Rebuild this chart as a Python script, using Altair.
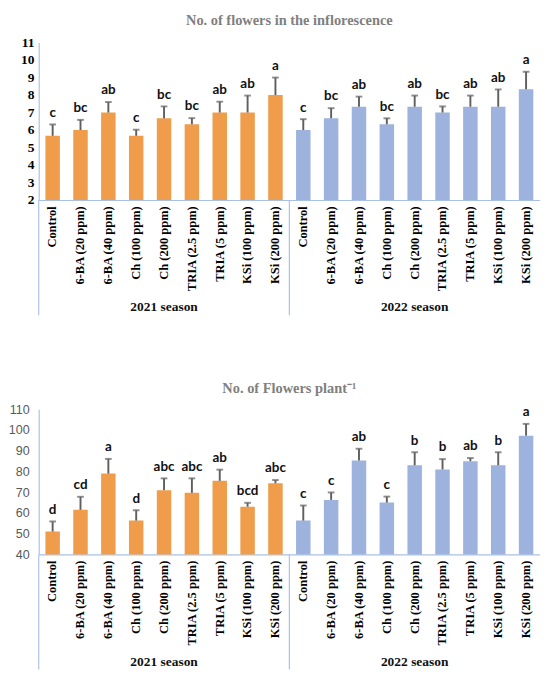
import altair as alt
import pandas as pd

treatments = ["Control", "6-BA (20 ppm)", "6-BA (40 ppm)", "Ch (100 ppm)", "Ch (200 ppm)",
              "TRIA (2.5 ppm)", "TRIA (5 ppm)", "KSi (100 ppm)", "KSi (200 ppm)"]
seasons = ["2021", "2022"]

# Chart 1: No. of flowers in the inflorescence
infl_2021 = [5.67, 6.0, 7.0, 5.67, 6.67, 6.33, 7.0, 7.0, 8.0]
infl_2021_err = [0.65, 0.58, 0.6, 0.35, 0.68, 0.35, 0.62, 0.97, 1.0]
infl_2021_let = ["c", "bc", "ab", "c", "bc", "bc", "ab", "ab", "a"]
infl_2022 = [6.0, 6.67, 7.33, 6.33, 7.33, 7.0, 7.33, 7.33, 8.33]
infl_2022_err = [0.62, 0.58, 0.58, 0.34, 0.64, 0.35, 0.64, 0.99, 1.0]
infl_2022_let = ["c", "bc", "ab", "bc", "ab", "bc", "ab", "ab", "a"]

# Chart 2: No. of Flowers plant-1
plant_2021 = [51.0, 61.5, 79.0, 56.3, 71.0, 69.7, 75.5, 63.0, 74.3]
plant_2021_err = [4.9, 6.3, 7.1, 5.0, 5.7, 7.0, 5.4, 1.9, 1.6]
plant_2021_let = ["d", "cd", "a", "d", "abc", "abc", "ab", "bcd", "abc"]
plant_2022 = [56.3, 66.3, 85.3, 65.0, 83.0, 81.0, 85.0, 83.0, 97.3]
plant_2022_err = [7.3, 3.6, 5.7, 2.9, 6.3, 5.0, 1.5, 6.3, 5.7]
plant_2022_let = ["c", "c", "ab", "c", "b", "b", "ab", "b", "a"]

ORANGE = "#EF9D4B"
BLUE = "#9DB3DD"
AXIS_BLUE = "#A9C0E6"
ERR = "#5F5F5F"
SERIF = "Liberation Serif"

keys = [f"{s}|{t}" for s in seasons for t in treatments]


def build_df(v1, e1, l1, v2, e2, l2):
    rows = []
    for s, vals, errs, lets in (("2021", v1, e1, l1), ("2022", v2, e2, l2)):
        for t, v, e, l in zip(treatments, vals, errs, lets):
            rows.append({"key": f"{s}|{t}", "season": s, "value": v,
                         "top": v + e, "letter": l})
    return pd.DataFrame(rows)


def panel(df, title, height, domain, tick_values, ylab_font, ylab_weight,
          ylab_color, ylab_size, ylab_pad):
    width = 522
    xscale = alt.Scale(paddingInner=0, paddingOuter=0)
    xaxis = alt.Axis(title=None, labelAngle=-90, ticks=False,
                     labelExpr="split(datum.label, '|')[1]",
                     labelFont=SERIF, labelFontWeight="bold",
                     labelFontSize=13, labelColor="#000000",
                     labelPadding=6, domainColor=AXIS_BLUE,
                     domainWidth=1.2, grid=False)
    yscale = alt.Scale(domain=domain, nice=False, zero=False)
    yaxis = alt.Axis(title=None, values=tick_values, ticks=False, grid=False,
                     labelOverlap=False,
                     domainColor=AXIS_BLUE, domainWidth=1.2,
                     labelFont=ylab_font, labelFontWeight=ylab_weight,
                     labelColor=ylab_color, labelFontSize=ylab_size,
                     labelPadding=ylab_pad)

    def X():
        return alt.X("key:N", sort=keys, scale=xscale, axis=xaxis)

    def Y(field):
        return alt.Y(field, scale=yscale, axis=yaxis)

    base = alt.Chart(df)
    bars = base.mark_bar(width=alt.RelativeBandSize(0.52), clip=True).encode(
        x=X(),
        y=Y("value:Q"),
        color=alt.Color("season:N",
                        scale=alt.Scale(domain=seasons, range=[ORANGE, BLUE]),
                        legend=None),
    )
    rules = base.mark_rule(color=ERR, strokeWidth=2).encode(
        x=X(), y=Y("value:Q"), y2="top:Q")
    caps = base.mark_tick(color=ERR, size=7, thickness=2).encode(
        x=X(), y=Y("top:Q"))
    letters = base.mark_text(font="Lato", fontWeight="bold", fontSize=14,
                             color="#111111", baseline="alphabetic", dy=-8).encode(
        x=X(), y=Y("top:Q"), text="letter:N")

    div_df = pd.DataFrame({"key": ["2021|Control", "2022|Control"]})
    dividers = alt.Chart(div_df).mark_rule(color=AXIS_BLUE, strokeWidth=1.2).encode(
        x=alt.X("key:N", sort=keys, scale=xscale, axis=xaxis, bandPosition=0),
        y=alt.value(height), y2=alt.value(height + 120))

    season_df = pd.DataFrame({"key": ["2021|Ch (200 ppm)", "2022|Ch (200 ppm)"],
                              "label": ["2021 season", "2022 season"]})
    season_txt = alt.Chart(season_df).mark_text(
        font=SERIF, fontWeight="bold", fontSize=14, color="#111111",
        baseline="middle").encode(
        x=X(), y=alt.value(height + 112), text="label:N")

    return alt.layer(bars, rules, caps, letters, dividers, season_txt).properties(
        width=width, height=height,
        title=alt.TitleParams(title, font=SERIF, fontSize=15, fontWeight="bold",
                              color="#7F7F7F", anchor="middle", offset=8),
    )


df1 = build_df(infl_2021, infl_2021_err, infl_2021_let,
               infl_2022, infl_2022_err, infl_2022_let)
df2 = build_df(plant_2021, plant_2021_err, plant_2021_let,
               plant_2022, plant_2022_err, plant_2022_let)

top = panel(df1, "No. of flowers in the inflorescence", 164, [2, 11],
            list(range(2, 12)), SERIF, "bold", "#000000", 14, 5)
bottom = panel(df2, "No. of Flowers plant\u207b\u00b9", 151, [40, 110],
               list(range(40, 111, 10)), "Liberation Sans", "normal", "#595959", 13, 10)

chart = alt.vconcat(top, bottom, spacing=68).properties(
    padding={"left": 0, "top": -8, "right": 0, "bottom": 0}
).configure_view(stroke=None)

chart.save("out.html", embed_options={"renderer": "svg", "actions": False})
